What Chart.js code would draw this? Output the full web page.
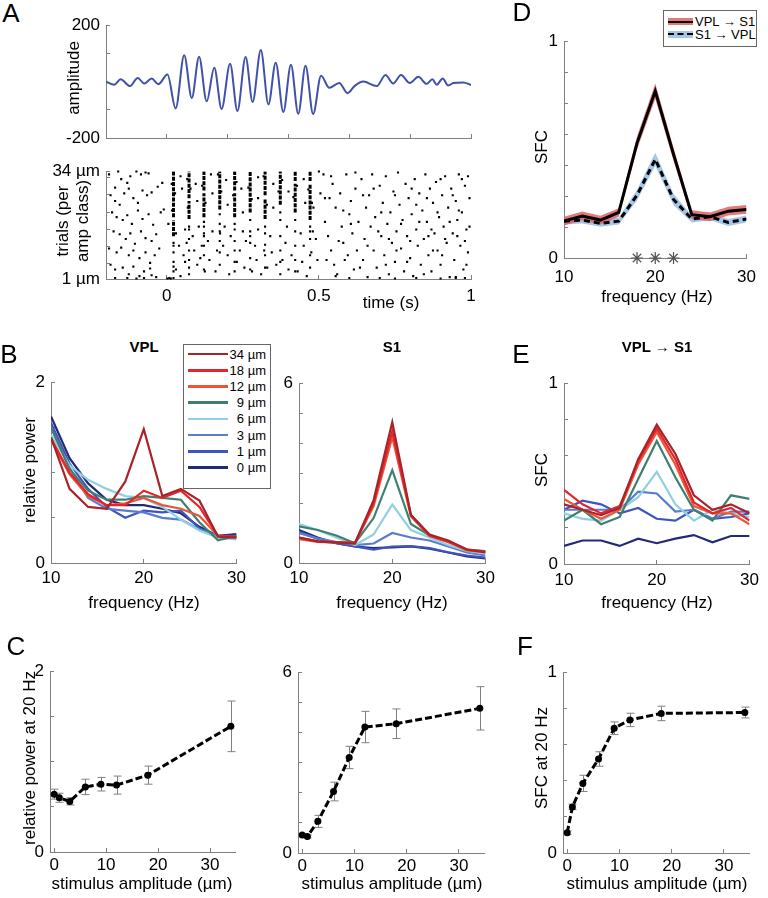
<!DOCTYPE html>
<html><head><meta charset="utf-8">
<script src="https://cdn.jsdelivr.net/npm/chart.js@4.4.1/dist/chart.umd.min.js"></script>
<style>
html,body{margin:0;padding:0;background:#fff;}
#page{position:relative;width:768px;height:898px;overflow:hidden;font-family:"Liberation Sans",Arial,sans-serif;color:#000;background:#fff;}
canvas{position:absolute;}
.t{position:absolute;white-space:nowrap;transform:translate(-50%,-50%);font-size:17px;line-height:1.1;text-align:center;}
.r{transform:translate(-50%,-50%) rotate(-90deg);}
.b{font-weight:bold;font-size:15px;}
.L{font-size:26px;}
.lg{position:absolute;background:#fff;border:1px solid #666;font-size:13px;}
.lg div{position:absolute;}
</style></head><body><div id="page"></div>
<script>
// ---------------- DATA ----------------
const waveT   = [-0.2,-0.173,-0.152,-0.121,-0.096,-0.074,-0.050,-0.028,0.002,0.029,0.057,0.082,0.106,0.131,0.156,0.180,0.208,0.232,0.259,0.282,0.309,0.334,0.358,0.383,0.408,0.432,0.456,0.481,0.507,0.534,0.567,0.594,0.618,0.646,0.690,0.719,0.744,0.770,0.799,0.827,0.854,0.873,0.887,0.907,0.925,0.942,0.975,1.0];
const waveAmp = [0,-11,8,-16,13,-7,11,-9,25,-95,93,-58,88,-70,49,-97,63,-104,87,-72,112,-81,67,-108,60,-114,56,-115,21,-22,-5,-41,-15,0,-16,23,-7,23,-5,17,-8,8,-11,11,-14,-5,-3,-12];

const stripeTimes = [0.022,0.073,0.122,0.174,0.223,0.274,0.323,0.373,0.422,0.471];
const stripeDense = [[[45,62],[65,113]],[[63,82],[85,113]],[[65,90],[93,113]],[[73,113]],[[65,90],[93,113]],[[70,113]],[[63,85],[88,113]],[[78,113]],[[70,100],[103,113]],[[62,100],[103,113]]];
const stripeSparse = [[38,35,28,18,13,8,1],[55,52,42,30,20,12,5],[60,55,48,45,35,25,10],[68,58,50,40,28,15],[58,52,40,30,18,8],[62,50,45,38,22,10],[55,48,36,25,12],[70,62,45,30,18,5],[62,50,35,20,8],[55,50,42,25,12]];
const stripeEdge = [[0.016,100],[0.027,90],[0.017,72],[0.067,105],[0.078,95],[0.069,75],[0.116,98],[0.127,80],[0.168,110],[0.179,92],[0.218,88],[0.229,102],[0.268,96],[0.279,84],[0.318,108],[0.329,78],[0.367,92],[0.379,104],[0.416,86],[0.428,98],[0.465,94],[0.477,80],[0.482,75]];
const rasterDots = [
[-0.19,110],[-0.17,96],[-0.16,113],[-0.15,105],[-0.13,101],[-0.12,108],[-0.10,113],[-0.085,110],[-0.07,112],[-0.06,111],
[-0.185,88],[-0.17,82],[-0.155,78],[-0.14,90],[-0.125,95],[-0.11,85],[-0.095,80],[-0.08,93],[-0.065,88],[-0.05,91],[-0.03,97],[-0.015,101],
[-0.18,70],[-0.165,65],[-0.145,62],[-0.13,67],[-0.115,58],[-0.095,72],[-0.08,63],[-0.06,68],[-0.045,57],[-0.02,70],[-0.01,73],
[-0.175,50],[-0.155,47],[-0.135,42],[-0.12,48],[-0.105,37],[-0.085,50],[-0.07,43],[-0.05,40],[-0.035,47],
[-0.19,32],[-0.165,28],[-0.15,33],[-0.125,25],[-0.11,30],[-0.09,22],[-0.07,28],[-0.055,17],[-0.04,25],[-0.025,32],
[-0.185,15],[-0.17,10],[-0.145,12],[-0.125,5],[-0.11,13],[-0.09,3],[-0.075,8],[-0.055,11],[-0.035,2],
[-0.17,1],[-0.13,1],[-0.1,0.5],[-0.075,1],[-0.05,4],[0.002,0.5],[0.008,1],[0.013,0.5],
[0.045,108],[0.05,95],[0.095,100],[0.1,82],[0.145,110],[0.15,90],[0.195,104],[0.2,78],[0.245,95],[0.25,70],[0.3,107],[0.3,85],[0.35,100],[0.35,75],[0.4,92],[0.45,105],[0.455,80],[0.5,113],[0.515,110],[0.52,85],[0.505,90],
[0.005,58],[0.03,48],[0.04,35],[0.055,25],[0.06,52],[0.085,45],[0.09,30],[0.1,15],[0.105,55],[0.135,40],[0.14,20],[0.15,50],[0.16,8],[0.185,35],[0.19,55],[0.2,25],[0.205,5],[0.21,45],[0.24,30],[0.25,50],[0.255,12],[0.26,40],[0.29,35],[0.295,20],[0.3,52],[0.31,5],[0.34,45],[0.345,28],[0.36,15],[0.39,38],[0.395,55],[0.4,10],[0.41,25],[0.44,48],[0.445,18],[0.45,35],[0.46,3],[0.49,42],[0.495,20],[0.03,10],[0.045,3],[0.065,38],[0.115,35],[0.125,8],[0.165,30],[0.175,48],[0.23,18],[0.28,8],[0.32,30],[0.33,12],[0.38,20],[0.43,8],[0.475,28],[0.48,50],[0.06,18],[0.11,22],
[0.52,60],[0.53,45],[0.54,30],[0.545,100],[0.55,15],[0.555,75],[0.56,5],[0.57,90],[0.575,55],[0.58,38],[0.585,20],[0.59,110],[0.6,68],[0.605,82],[0.61,48],[0.615,10],[0.62,95],[0.625,30],[0.63,60],[0.64,105],[0.645,20],[0.65,42],[0.655,75],[0.66,2],[0.665,88],[0.67,55],[0.675,110],[0.68,30],[0.685,65],[0.69,12],[0.7,98],[0.705,45],[0.71,80],[0.715,25],[0.72,108],[0.725,58],[0.73,5],[0.735,70],[0.74,38],[0.745,92],[0.75,18],[0.755,50],[0.76,112],[0.765,78],[0.77,32],[0.775,62],[0.78,8],[0.785,100],[0.79,45],[0.795,85],[0.8,22],[0.805,68],[0.81,3],[0.815,105],[0.82,52],[0.825,35],[0.83,90],[0.835,15],[0.84,72],[0.845,42],[0.85,110],[0.855,60],[0.86,25],[0.865,95],[0.87,8],[0.875,80],[0.88,48],[0.885,102],[0.89,30],[0.895,65],[0.9,15],[0.905,88],[0.91,55],[0.915,108],[0.92,38],[0.925,75],[0.93,2],[0.935,95],[0.94,48],[0.945,20],[0.95,82],[0.955,62],[0.96,110],[0.965,35],[0.97,70],[0.975,10],[0.98,98],[0.985,52],[0.99,28],[0.995,85],
[0.525,20],[0.535,85],[0.565,40],[0.595,25],[0.635,12],[0.66,35],[0.695,50],[0.72,15],[0.75,88],[0.77,58],[0.8,40],[0.82,78],[0.845,5],[0.86,45],[0.875,30],[0.89,70],[0.9,105],[0.915,42],[0.93,60],[0.95,2],[0.96,72],[0.98,40],[0.97,105],[0.985,15],[0.54,108],[0.58,72],[0.62,112],[0.68,95],[0.73,42],[0.79,18],[0.83,60],[0.87,52],[0.94,88],[0.99,108],[0.555,3],[0.605,58],[0.645,88],[0.705,70],[0.755,30],[0.805,95],[0.855,85],[0.905,25],[0.955,45],[0.995,55],
[0.6,1],[0.7,1],[0.75,0.5],[0.82,1],[0.9,0.5],[0.95,1],[0.98,1]
];
const rasterYTicks = [0,16.7,34.3,52.3,70,88.3,106.7,113.3];
const rasterYLabels = ['1 µm','','','','','','','34 µm'];

const freqs = [10,12,14,16,18,20,22,24,26,28,30];
const ampLabels = ['34 µm','18 µm','12 µm','9 µm','6 µm','3 µm','1 µm','0 µm'];
const ampColors = ['#a8232a','#e2262b','#ec5537','#3f7f72','#8fd0e2','#5a7ccc','#3d55bd','#222a78'];

const vplPower = [
 [1.39,0.82,0.62,0.60,0.90,1.48,0.74,0.82,0.69,0.29,0.28],
 [1.38,1.00,0.76,0.64,0.64,0.80,0.72,0.80,0.62,0.30,0.29],
 [1.36,0.98,0.74,0.64,0.66,0.72,0.64,0.60,0.52,0.30,0.28],
 [1.50,1.04,0.80,0.70,0.70,0.74,0.72,0.70,0.45,0.25,0.30],
 [1.42,1.08,0.92,0.82,0.74,0.72,0.62,0.48,0.36,0.28,0.26],
 [1.50,1.05,0.72,0.60,0.58,0.56,0.50,0.48,0.37,0.30,0.28],
 [1.55,1.10,0.82,0.62,0.50,0.58,0.56,0.58,0.38,0.30,0.30],
 [1.62,1.16,0.88,0.70,0.64,0.64,0.60,0.55,0.40,0.30,0.32]
];
const s1Power = [
 [0.85,0.72,0.68,0.65,2.10,4.70,1.60,0.95,0.75,0.45,0.35],
 [0.85,0.72,0.70,0.68,2.00,4.40,1.60,0.92,0.72,0.45,0.38],
 [0.80,0.70,0.68,0.66,1.90,4.20,1.55,0.90,0.70,0.42,0.36],
 [1.22,1.10,0.92,0.66,1.50,3.10,1.30,0.92,0.70,0.45,0.40],
 [1.30,1.10,0.85,0.60,0.95,1.95,1.10,0.85,0.60,0.40,0.32],
 [1.00,0.82,0.70,0.60,0.65,1.00,0.85,0.75,0.55,0.35,0.25],
 [1.05,0.80,0.66,0.55,0.45,0.55,0.56,0.50,0.36,0.25,0.18],
 [1.10,0.85,0.66,0.55,0.50,0.52,0.55,0.48,0.35,0.22,0.15]
];
const sfcByAmp = [
 [0.33,0.30,0.27,0.31,0.58,0.77,0.61,0.38,0.30,0.33,0.28],
 [0.41,0.33,0.28,0.32,0.57,0.75,0.58,0.34,0.28,0.31,0.24],
 [0.36,0.30,0.25,0.30,0.55,0.73,0.55,0.32,0.28,0.28,0.22],
 [0.24,0.30,0.22,0.26,0.47,0.68,0.48,0.30,0.24,0.38,0.36],
 [0.28,0.25,0.24,0.30,0.37,0.51,0.33,0.24,0.30,0.28,0.26],
 [0.30,0.30,0.30,0.30,0.40,0.39,0.29,0.30,0.25,0.29,0.29],
 [0.30,0.35,0.33,0.28,0.31,0.25,0.24,0.30,0.25,0.26,0.28],
 [0.10,0.13,0.13,0.10,0.14,0.115,0.14,0.16,0.12,0.155,0.155]
];
const sfcVplS1    = [0.17,0.194,0.175,0.21,0.53,0.77,0.478,0.20,0.19,0.216,0.224];
const sfcVplS1Err = [0.02,0.02,0.02,0.02,0.03,0.035,0.03,0.02,0.02,0.02,0.02];
const sfcS1Vpl    = [0.17,0.175,0.16,0.17,0.29,0.455,0.27,0.18,0.19,0.164,0.18];
const sfcS1VplErr = [0.016,0.016,0.016,0.016,0.025,0.03,0.025,0.016,0.016,0.016,0.016];
const starFreqs = [18,20,22];

const stimAmps = [0,1,3,6,9,12,18,34];
const vplP20 = [0.64,0.60,0.56,0.72,0.75,0.74,0.85,1.39];
const vplP20Err = [0.055,0.05,0.04,0.085,0.075,0.10,0.10,0.28];
const s1P20 = [0.60,0.55,1.05,2.04,3.17,4.18,4.29,4.80];
const s1P20Err = [0.05,0.05,0.20,0.31,0.37,0.52,0.49,0.72];
const sfc20 = [0.112,0.255,0.385,0.52,0.69,0.736,0.772,0.777];
const sfc20Err = [0.01,0.015,0.045,0.04,0.035,0.037,0.04,0.03];

// ---------------- SETUP ----------------
Chart.defaults.font.family = '"Liberation Sans", Arial, sans-serif';
Chart.defaults.font.size = 17;
Chart.defaults.color = '#000';

const errPlugin = {
  id: 'errbars',
  beforeDatasetsDraw(chart, args, opts) {
    if (!opts || !opts.err) return;
    const ctx = chart.ctx, xs = chart.scales.x, ys = chart.scales.y;
    const pts = chart.data.datasets[0].data;
    ctx.save(); ctx.strokeStyle = opts.color || '#777'; ctx.lineWidth = 1;
    pts.forEach((p, i) => {
      const e = opts.err[i];
      const px = Math.round(xs.getPixelForValue(p.x)) + 0.5;
      const y1 = ys.getPixelForValue(p.y - e), y2 = ys.getPixelForValue(p.y + e);
      const c = opts.cap || 4;
      ctx.beginPath();
      ctx.moveTo(px, y1); ctx.lineTo(px, y2);
      ctx.moveTo(px - c, y1); ctx.lineTo(px + c, y1);
      ctx.moveTo(px - c, y2); ctx.lineTo(px + c, y2);
      ctx.stroke();
    });
    ctx.restore();
  }
};
Chart.register(errPlugin);

const page = document.getElementById('page');
function addText(html, x, y, cls, extra) {
  const d = document.createElement('div');
  d.className = 't ' + (cls || '');
  d.innerHTML = html; d.style.left = x + 'px'; d.style.top = y + 'px';
  if (extra) Object.assign(d.style, extra);
  page.appendChild(d); return d;
}
const PAD = {l: 62, r: 18, t: 14, b: 30};
const AX = '#808080';
function axis(pos, min, max, vals, labelFn, pad) {
  return {
    type: 'linear', position: pos, min: min, max: max,
    afterBuildTicks: s => { s.ticks = vals.map(v => ({value: v})); },
    afterFit: s => { if (pos === 'bottom') s.height = PAD.b; else s.width = PAD.l; },
    grid: {display: true, drawOnChartArea: false, drawTicks: true, tickLength: -4, color: AX, lineWidth: 1},
    border: {display: true, color: AX, width: 1},
    ticks: {padding: pad, color: '#000', font: {size: 17}, maxRotation: 0, minRotation: 0, autoSkip: false,
            callback: (v, i) => labelFn(v, i)}
  };
}
const endLab = (a, b) => v => (Math.abs(v - a) < 1e-9 || Math.abs(v - b) < 1e-9) ? String(v) : '';
function makeChart(box, datasets, xs, ys, plugins) {
  const c = document.createElement('canvas');
  const w = box[2] - box[0] + PAD.l + PAD.r, h = box[3] - box[1] + PAD.t + PAD.b;
  c.width = w; c.height = h;
  c.style.left = (box[0] - PAD.l) + 'px'; c.style.top = (box[1] - PAD.t) + 'px';
  c.style.width = w + 'px'; c.style.height = h + 'px';
  page.appendChild(c);
  return new Chart(c, {
    type: 'line',
    data: {datasets: datasets},
    options: {
      responsive: false, maintainAspectRatio: false, animation: false, devicePixelRatio: 1,
      layout: {padding: {top: PAD.t, right: PAD.r, left: 0, bottom: 0}},
      plugins: Object.assign({legend: {display: false}, tooltip: {enabled: false}}, plugins || {}),
      scales: {x: xs, y: ys}
    }
  });
}
const xy = (xsArr, ysArr) => ysArr.map((v, i) => ({x: xsArr[i], y: v}));
function ampSeries(table) {
  return table.map((vals, i) => ({data: xy(freqs, vals), borderColor: ampColors[i], borderWidth: 2.2,
    pointRadius: 0, tension: 0, fill: false}));
}

// ---------------- A: waveform ----------------
makeChart([106, 19, 471, 138],
  [{data: xy(waveT, waveAmp), borderColor: '#3f51a8', borderWidth: 2, pointRadius: 0,
    cubicInterpolationMode: 'monotone', fill: false}],
  axis('bottom', -0.2, 1.0, [-0.2, 0, 0.2, 0.4, 0.6, 0.8, 1.0], v => '', 9),
  axis('left', -200, 200, [-200, -100, 100, 200], endLab(-200, 200), 10));

// ---------------- A: raster ----------------
(function () {
  const ds = [];
  const dots = rasterDots.concat(stripeEdge).map(p => ({x: p[0], y: p[1]}));
  stripeTimes.forEach((t, i) => {
    stripeDense[i].forEach(seg => {
      ds.push({data: [{x: t, y: seg[0]}, {x: t, y: seg[1]}], borderColor: '#000', borderWidth: 3,
        borderDash: [4, 1.2], pointRadius: 0, fill: false});
    });
    stripeSparse[i].forEach(k => dots.push({x: t, y: k}));
  });
  ds.unshift({data: dots, showLine: false, pointStyle: 'rect', pointRadius: 1.5,
    pointBackgroundColor: '#000', pointBorderWidth: 0, clip: 3});
  makeChart([106, 165, 471, 279], ds,
    axis('bottom', -0.2, 1.0, [0, 0.5, 1], v => String(v), 11),
    axis('left', 0, 113.3, rasterYTicks, (v, i) => rasterYLabels[i], 10));
})();

// ---------------- B: VPL / S1 ----------------
makeChart([51, 376, 237, 563], ampSeries(vplPower),
  axis('bottom', 10, 30, [10, 20, 30], v => String(v), 9),
  axis('left', 0, 2, [0, 0.5, 1, 1.5, 2], endLab(0, 2), 10));
makeChart([299, 377, 486, 563], ampSeries(s1Power),
  axis('bottom', 10, 30, [10, 20, 30], v => String(v), 9),
  axis('left', 0, 6, [0, 1, 2, 3, 4, 5, 6], endLab(0, 6), 10));

// ---------------- D ----------------
(function () {
  const up = (v, e) => v.map((a, i) => a + e[i]);
  const lo = (v, e) => v.map((a, i) => a - e[i]);
  const ds = [
    {data: xy(freqs, sfcVplS1), borderColor: '#000', borderWidth: 3, pointRadius: 0, fill: false},
    {data: xy(freqs, sfcS1Vpl), borderColor: '#000', borderWidth: 3, borderDash: [6, 4], pointRadius: 0, fill: false},
    {data: starFreqs.map(f => ({x: f, y: 0})), showLine: false, pointStyle: 'star', pointRadius: 6,
     pointBorderColor: '#555', pointBorderWidth: 1.2, clip: false},
    {data: xy(freqs, up(sfcVplS1, sfcVplS1Err)), borderWidth: 0, pointRadius: 0, fill: '+1', backgroundColor: 'rgba(222,98,98,0.85)'},
    {data: xy(freqs, lo(sfcVplS1, sfcVplS1Err)), borderWidth: 0, pointRadius: 0, fill: false},
    {data: xy(freqs, up(sfcS1Vpl, sfcS1VplErr)), borderWidth: 0, pointRadius: 0, fill: '+1', backgroundColor: 'rgba(160,196,232,0.95)'},
    {data: xy(freqs, lo(sfcS1Vpl, sfcS1VplErr)), borderWidth: 0, pointRadius: 0, fill: false}
  ];
  const t7 = [0, 1, 2, 3, 4, 5, 6, 7].map(k => k / 7);
  makeChart([564, 35, 751, 258], ds,
    axis('bottom', 10, 30, [10, 20, 30], v => String(v), 13),
    axis('left', 0, 1, t7, v => (v === 0 ? '0' : (Math.abs(v - 1) < 1e-9 ? '1' : '')), 10));
})();

// ---------------- E ----------------
makeChart([564, 377, 751, 564], ampSeries(sfcByAmp),
  axis('bottom', 10, 30, [10, 20, 30], v => String(v), 10),
  axis('left', 0, 1, [0, 0.2, 0.4, 0.6, 0.8, 1], endLab(0, 1), 10));

// ---------------- C / F ----------------
function ampPanel(box, vals, err, ymax, yticks) {
  makeChart(box,
    [{data: xy(stimAmps, vals), borderColor: '#000', borderWidth: 3, borderDash: [7, 3], pointRadius: 3.5,
      pointBackgroundColor: '#000', pointBorderWidth: 0, tension: 0, fill: false, clip: false}],
    axis('bottom', -0.8, 34.8, [0, 10, 20, 30], v => String(v), 7),
    axis('left', 0, ymax, yticks, endLab(0, ymax), 10),
    {errbars: {err: err, color: '#808080', cap: 4}});
}
ampPanel([50, 665, 235, 852], vplP20, vplP20Err, 2, [0, 0.5, 1, 1.5, 2]);
ampPanel([298, 666, 484, 853], s1P20, s1P20Err, 6, [0, 1, 2, 3, 4, 5, 6]);
ampPanel([563, 666, 749, 853], sfc20, sfc20Err, 1, [0, 0.2, 0.4, 0.6, 0.8, 1]);

// ---------------- Legends ----------------
(function () {
  const box = document.createElement('div');
  box.className = 'lg';
  Object.assign(box.style, {left: '183px', top: '344px', width: '86px', height: '143px'});
  ampLabels.forEach((lab, i) => {
    const cy = 9 + i * 16.2;
    const ln = document.createElement('div');
    Object.assign(ln.style, {left: '4px', top: (cy - 1.2) + 'px', width: '40px', height: '2.5px', background: ampColors[i]});
    box.appendChild(ln);
    const tx = document.createElement('div');
    tx.textContent = lab;
    Object.assign(tx.style, {right: '4px', top: (cy - 7.5) + 'px', lineHeight: '15px'});
    box.appendChild(tx);
  });
  page.appendChild(box);

  const d = document.createElement('div');
  d.className = 'lg';
  Object.assign(d.style, {left: '663px', top: '10px', width: '92px', height: '35px'});
  const parts = [
    {l: '4px', t: '7px', w: '25px', h: '7px', bg: 'rgba(222,98,98,0.85)'},
    {l: '4px', t: '9.5px', w: '25px', h: '2.4px', bg: '#000'},
    {l: '4px', t: '20px', w: '25px', h: '7px', bg: 'rgba(160,196,232,0.95)'}
  ];
  parts.forEach(p => { const e = document.createElement('div'); Object.assign(e.style, {left: p.l, top: p.t, width: p.w, height: p.h, background: p.bg}); d.appendChild(e); });
  const dash = document.createElement('div');
  Object.assign(dash.style, {left: '4px', top: '22.4px', width: '25px', height: '0px', borderTop: '2.2px dashed #000'});
  d.appendChild(dash);
  [['VPL → S1', 3], ['S1 → VPL', 16]].forEach(([s, t]) => {
    const e = document.createElement('div'); e.textContent = s;
    Object.assign(e.style, {left: '31px', top: t + 'px', lineHeight: '15px'}); d.appendChild(e);
  });
  page.appendChild(d);
})();

// ---------------- Text ----------------
addText('A', 11, 13, 'L');
addText('B', 9, 354, 'L');
addText('C', 16, 646, 'L');
addText('D', 522, 12, 'L');
addText('E', 521, 354, 'L');
addText('F', 525, 646, 'L');
addText('amplitude', 74, 78, 'r');
addText('trials (per<br>amp class)', 73, 221, 'r', {lineHeight: '20px'});
addText('time (s)', 391, 303);
addText('VPL', 144, 347, 'b');
addText('S1', 392, 347, 'b');
addText('VPL → S1', 657, 347, 'b');
addText('relative power', 30, 470, 'r');
addText('frequency (Hz)', 144, 603);
addText('frequency (Hz)', 392, 603);
addText('frequency (Hz)', 657, 603);
addText('frequency (Hz)', 657, 297);
addText('SFC', 542, 147, 'r');
addText('SFC', 542, 470, 'r');
addText('relative power at 20 Hz', 30, 758, 'r');
addText('SFC at 20 Hz', 542, 758, 'r');
addText('stimulus amplitude (µm)', 142, 884);
addText('stimulus amplitude (µm)', 392, 884);
addText('stimulus amplitude (µm)', 657, 884);
</script></body></html>
